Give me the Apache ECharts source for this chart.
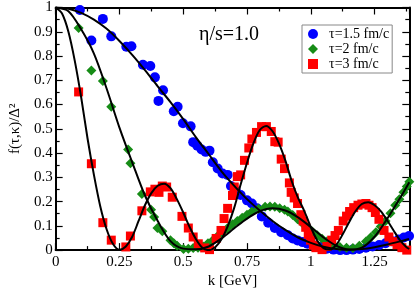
<!DOCTYPE html>
<html>
<head>
<meta charset="utf-8">
<script src="https://cdn.jsdelivr.net/npm/echarts@6/dist/echarts.min.js"></script>
<style>html,body{margin:0;padding:0;background:#fff;}#c{width:415px;height:294px;}</style>
</head>
<body>
<div id="c"></div>
<script>
// ---- data ----
const seriesNames = ['τ=1.5 fm/c', 'τ=2 fm/c', 'τ=3 fm/c'];
const xTickLabels = ['0', '0.25', '0.5', '0.75', '1', '1.25'];
const yTickLabels = ['0', '0.1', '0.2', '0.3', '0.4', '0.5', '0.6', '0.7', '0.8', '0.9', '1'];

// tau = 1.5 fm/c (blue circles)
const blueK = [0.095,0.14,0.185,0.218,0.277,0.297,0.342,0.371,0.389,0.403,0.421,0.463,0.478,0.499,0.529,0.539,
  0.555,0.572,0.588,0.603,0.616,0.635,0.654,0.674,0.687,0.706,0.725,0.75,0.769,0.789,0.808,0.833,0.859,0.884,0.91,
  0.929,0.948,0.968,0.987,1.01,1.037,1.063,1.089,1.115,1.14,1.165,1.19,1.216,1.242,1.268,1.293,1.318,1.344,1.365,1.385];
const blueV = [0.99,0.864,0.953,0.881,0.838,0.84,0.764,0.759,0.712,0.615,0.659,0.572,0.591,0.523,0.51,0.445,
  0.43,0.415,0.405,0.41,0.362,0.336,0.316,0.31,0.264,0.244,0.227,0.205,0.192,0.172,0.139,0.113,0.091,0.074,0.061,
  0.048,0.04,0.033,0.026,0.02,0.013,0.006,0.002,0.0,0.0,0.002,0.005,0.01,0.015,0.021,0.028,0.036,0.044,0.052,0.058];

// tau = 2 fm/c (green diamonds)
const greenK = [0.09,0.14,0.185,0.218,0.284,0.293,0.338,0.374,0.386,0.399,0.418,0.45,0.463,0.476,0.501,0.52,0.539,
  0.558,0.578,0.597,0.616,0.635,0.654,0.673,0.693,0.712,0.731,0.75,0.769,0.795,0.821,0.84,0.859,0.878,0.897,0.91,
  0.929,0.948,0.968,0.987,1.006,1.025,1.044,1.063,1.088,1.114,1.14,1.165,1.19,1.216,1.235,1.255,1.274,1.293,1.312,
  1.331,1.347,1.363,1.376,1.386];
const greenV = [0.916,0.74,0.697,0.591,0.415,0.358,0.231,0.166,0.136,0.091,0.078,0.041,0.028,0.018,0.005,0.006,0.009,
  0.01,0.015,0.028,0.041,0.058,0.074,0.09,0.107,0.12,0.133,0.146,0.159,0.17,0.179,0.18,0.179,0.172,0.166,0.159,
  0.145,0.127,0.11,0.094,0.077,0.061,0.047,0.035,0.022,0.013,0.01,0.009,0.018,0.035,0.053,0.074,0.097,0.12,0.152,
  0.185,0.21,0.238,0.262,0.282];

// tau = 3 fm/c (red squares)
const redK = [0.09,0.14,0.185,0.218,0.275,0.293,0.338,0.371,0.389,0.405,0.418,0.435,0.457,0.495,0.52,0.539,0.559,
  0.584,0.603,0.629,0.648,0.66,0.674,0.693,0.70,0.712,0.725,0.74,0.757,0.769,0.787,0.807,0.826,0.845,0.859,0.872,0.884,0.897,0.916,
  0.923,0.935,0.948,0.961,0.97,0.98,0.99,0.999,1.01,1.02,1.044,1.063,1.082,1.095,1.108,1.127,1.14,1.152,1.168,1.185,1.2,1.216,1.228,
  1.24,1.253,1.267,1.287,1.306,1.322,1.338,1.357,1.376];
const redV = [0.652,0.356,0.113,0.041,0.013,0.058,0.162,0.24,0.251,0.238,0.264,0.26,0.218,0.139,0.091,0.054,0.026,
  0.009,0.002,0.048,0.081,0.13,0.172,0.225,0.26,0.303,0.31,0.37,0.421,0.458,0.485,0.509,0.509,0.489,0.447,0.445,0.375,0.336,0.277,
  0.238,0.215,0.192,0.146,0.12,0.094,0.065,0.041,0.02,0.01,0.002,0.015,0.041,0.06,0.081,0.12,0.14,0.159,0.175,0.185,0.19,0.192,0.185,
  0.175,0.155,0.127,0.081,0.054,0.035,0.022,0.01,0.0];

// black fit curves
const blueFitK = [0,0.05,0.1,0.15,0.2,0.25,0.3,0.35,0.4,0.45,0.5,0.55,0.6,0.65,0.7,0.75,0.8,0.85,0.9,0.95,1.0,1.05,1.1,1.15,1.2,1.25,1.3,1.35,1.385];
const blueFitV = [1,0.995,0.978,0.95,0.912,0.862,0.805,0.742,0.675,0.61,0.54,0.465,0.395,0.325,0.265,0.21,0.163,0.12,0.083,0.052,0.03,0.014,0.005,0.001,0.004,0.012,0.023,0.036,0.046];

const greenFitK = [0,0.05,0.1,0.15,0.2,0.25,0.3,0.35,0.4,0.45,0.5,0.55,0.6,0.65,0.7,0.75,0.8,0.85,0.9,0.95,1.0,1.05,1.1,1.15,1.2,1.25,1.3,1.35,1.386];
const greenFitV = [1,0.985,0.91,0.81,0.665,0.505,0.362,0.225,0.12,0.037,0.006,0.003,0.015,0.048,0.09,0.13,0.16,0.172,0.163,0.135,0.095,0.052,0.018,0.002,0.01,0.055,0.13,0.215,0.28];

const redFitK = [0,0.025,0.05,0.075,0.1,0.125,0.15,0.175,0.2,0.225,0.25,0.275,0.3,0.325,0.35,0.375,0.4,0.425,0.45,0.475,0.5,0.525,0.55,0.575,0.6,0.625,0.65,0.675,0.7,0.725,0.75,0.775,0.8,0.825,0.85,0.875,0.9,0.925,0.95,0.975,1.0,1.025,1.05,1.075,1.1,1.125,1.15,1.175,1.2,1.225,1.25,1.275,1.3,1.325,1.35,1.375,1.386];
const redFitV = [1,0.975,0.9,0.78,0.63,0.46,0.31,0.18,0.085,0.025,0.001,0.015,0.055,0.12,0.185,0.235,0.265,0.274,0.255,0.21,0.155,0.095,0.045,0.01,0.0,0.012,0.045,0.1,0.175,0.27,0.36,0.44,0.495,0.512,0.49,0.44,0.37,0.285,0.215,0.16,0.095,0.04,0.008,0.002,0.022,0.065,0.115,0.16,0.19,0.197,0.185,0.16,0.122,0.08,0.04,0.012,0.005];

// ---- chart ----
const FONT = 'Liberation Serif';
const zip = (a, b) => a.map((v, i) => [v, b[i]]);
const yLabelFmt = v => { const i = Math.round(v * 10); return yTickLabels[i] !== undefined ? yTickLabels[i] : ''; };
const xLabelFmt = v => { const i = Math.round(v / 0.25); return xTickLabels[i] !== undefined ? xTickLabels[i] : ''; };

function xAxisCfg(pos, showLabel) {
  return {
    type: 'value', position: pos, min: 0, max: 1.386, interval: 0.25,
    axisLine: { show: true, onZero: false, lineStyle: { color: '#000', width: 2 } },
    axisTick: { show: true, inside: true, length: 7, lineStyle: { color: '#000', width: 1.2 } },
    minorTick: { show: true, splitNumber: 2, length: 4, lineStyle: { color: '#000', width: 1.2 } },
    splitLine: { show: false },
    axisLabel: { show: showLabel, formatter: xLabelFmt, fontFamily: FONT, fontSize: 15, color: '#000', margin: 4 },
    name: showLabel ? 'k [GeV]' : '', nameLocation: 'middle', nameGap: 17,
    nameTextStyle: { fontFamily: FONT, fontSize: 15, color: '#000' }
  };
}
function yAxisCfg(pos, showLabel) {
  return {
    type: 'value', position: pos, min: 0, max: 1, interval: 0.1,
    axisLine: { show: true, onZero: false, lineStyle: { color: '#000', width: 2 } },
    axisTick: { show: true, inside: true, length: 7, lineStyle: { color: '#000', width: 1.2 } },
    minorTick: { show: true, splitNumber: 2, length: 4, lineStyle: { color: '#000', width: 1.2 } },
    splitLine: { show: false },
    axisLabel: { show: showLabel, formatter: yLabelFmt, fontFamily: FONT, fontSize: 15, color: '#000', margin: 3 },
    name: showLabel ? 'f(τ,κ)/Δ²' : '', nameLocation: 'middle', nameGap: 28,
    nameTextStyle: { fontFamily: FONT, fontSize: 15, color: '#000' }
  };
}

const colors = ['#0000ff', '#168c16', '#ff0000'];
const symbols = ['circle', 'diamond', 'rect'];
const sizes = [10, 10, 9];
const pts = [zip(blueK, blueV), zip(greenK, greenV), zip(redK, redV)];
const fits = [zip(blueFitK, blueFitV), zip(greenFitK, greenFitV), zip(redFitK, redFitV)];

const series = [];
for (let i = 0; i < 3; i++) {
  series.push({
    name: seriesNames[i], type: 'scatter', data: pts[i], symbol: symbols[i], symbolSize: sizes[i],
    itemStyle: { color: colors[i], opacity: 1 }, z: 2 + i, silent: true
  });
}
for (let i = 0; i < 3; i++) {
  series.push({
    name: 'fit' + i, type: 'line', data: fits[i], showSymbol: false, symbol: 'none',
    smooth: 0.3,
    lineStyle: { color: '#000', width: 2 }, z: 10, silent: true
  });
}

const chart = echarts.init(document.getElementById('c'), null, { renderer: 'canvas' });
chart.setOption({
  animation: false,
  backgroundColor: '#fff',
  grid: { left: 47, right: 5.7, top: 6, bottom: 33.3, containLabel: false },
  xAxis: [xAxisCfg('bottom', true), xAxisCfg('top', false)],
  yAxis: [yAxisCfg('left', true), yAxisCfg('right', false)],
  title: {
    text: 'η/s=1.0', left: 199, top: 25, padding: 0,
    textStyle: { fontFamily: FONT, fontSize: 20, fontWeight: 'normal', color: '#000' }
  },
  legend: {
    data: seriesNames, orient: 'vertical', left: 302, top: 25,
    padding: [2, 3, 2, 6], itemGap: 1, itemWidth: 10, itemHeight: 10,
    borderColor: '#888', borderWidth: 1, backgroundColor: '#fff', borderRadius: 0,
    textStyle: { fontFamily: FONT, fontSize: 14, color: '#000', padding: [0, 0, 0, 6] },
    selectedMode: false
  },
  series: series
});
</script>
</body>
</html>
